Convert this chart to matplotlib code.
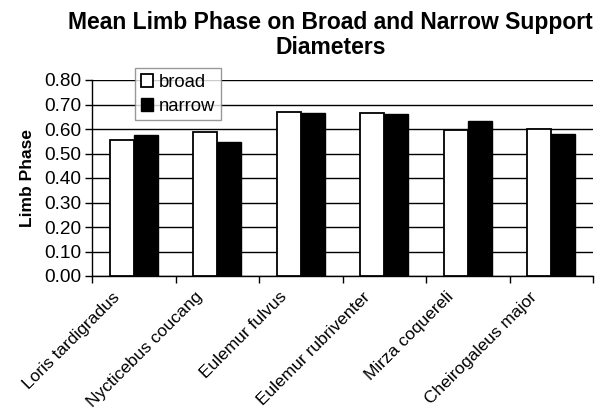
import matplotlib
matplotlib.use("Agg")
import matplotlib.pyplot as plt
import matplotlib.transforms as mtransforms
import numpy as np
from matplotlib.patches import Patch

plt.rcParams['font.family'] = ['Liberation Sans', 'DejaVu Sans']

species = ["Loris tardigradus", "Nycticebus coucang", "Eulemur fulvus",
           "Eulemur rubriventer", "Mirza coquereli", "Cheirogaleus major"]
broad = [0.555, 0.588, 0.671, 0.667, 0.595, 0.601]
narrow = [0.574, 0.546, 0.664, 0.661, 0.631, 0.580]
yticks = [0.0, 0.1, 0.2, 0.3, 0.4, 0.5, 0.6, 0.7, 0.8]

fig = plt.figure(figsize=(6.09, 4.09), dpi=100)
ax = fig.add_axes([92 / 609, 1 - 276 / 409, 501 / 609, 196 / 409])

x = np.arange(len(species))
w = 0.287
ax.bar(x - w / 2, broad, width=w, facecolor="white", edgecolor="black",
       linewidth=1.3, zorder=3)
ax.bar(x + w / 2, narrow, width=w, facecolor="black", edgecolor="black",
       linewidth=1.0, zorder=3)

ax.set_xlim(-0.5, len(species) - 0.5)
ax.set_ylim(0, 0.8)
ax.set_yticks(yticks)
ax.set_yticklabels([f"{v:.2f}" for v in yticks], fontsize=13.7)
ax.yaxis.grid(True, color="black", linewidth=1.0, zorder=0)
ax.set_axisbelow(True)

ax.set_xticks(x)
ax.set_xticklabels(species, rotation=45, ha="right", rotation_mode="anchor",
                   fontsize=12.5)
ax.tick_params(axis="x", which="major", length=0, pad=6)
ax.set_xticks(np.arange(-0.5, len(species)), minor=True)
ax.tick_params(axis="x", which="minor", length=5, width=1, direction="out")
ax.tick_params(axis="y", length=5, width=1, direction="out", pad=3)

# nudge the slanted category names left, under the bars
shift = mtransforms.ScaledTranslation(-22 / 100, -5 / 100, fig.dpi_scale_trans)
for lab in ax.get_xticklabels():
    lab.set_transform(lab.get_transform() + shift)

for s in ("top", "right"):
    ax.spines[s].set_visible(False)
ax.spines["left"].set_linewidth(1.0)
ax.spines["bottom"].set_linewidth(1.0)

ax.set_ylabel("Limb Phase", fontsize=12.5, fontweight="bold", labelpad=6)

fig.suptitle("Mean Limb Phase on Broad and Narrow Support\nDiameters",
             x=0.543, y=0.972, fontsize=16.5, fontweight="bold",
             linespacing=1.1)

handles = [Patch(facecolor="white", edgecolor="black", linewidth=1.3, label="broad"),
           Patch(facecolor="black", edgecolor="black", label="narrow")]
leg = fig.legend(handles=handles, loc="upper left",
                 bbox_to_anchor=(135 / 609, 1 - 68 / 409),
                 bbox_transform=fig.transFigure, borderaxespad=0,
                 fontsize=13.3, frameon=True, fancybox=False,
                 handlelength=0.7, handleheight=0.7, handletextpad=0.3,
                 borderpad=0.3, labelspacing=0.4)
leg.get_frame().set_edgecolor("#808080")
leg.get_frame().set_linewidth(1.0)

fig.savefig("out.png", dpi=100)
